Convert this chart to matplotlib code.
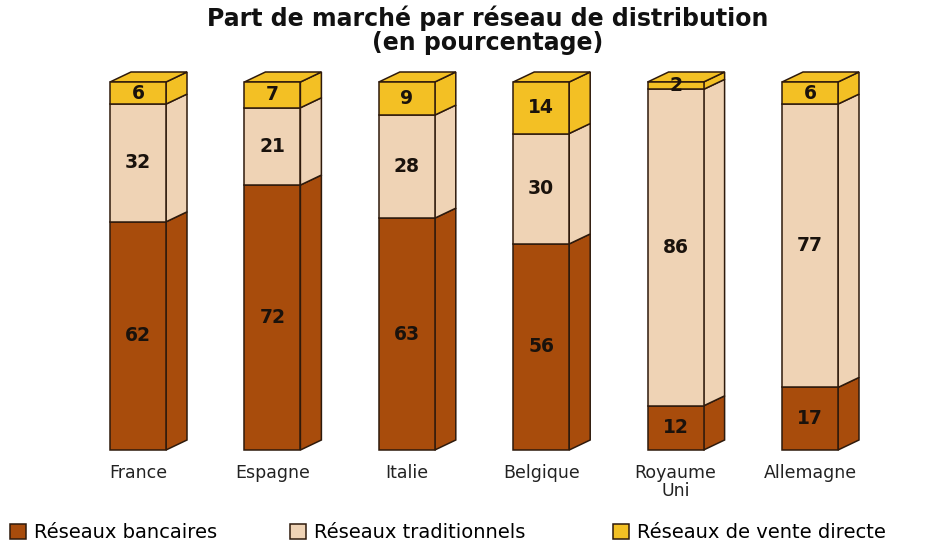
import matplotlib
matplotlib.use("Agg")
import matplotlib.pyplot as plt
from matplotlib.patches import Polygon

plt.rcParams['font.family'] = ['DejaVu Sans']

categories = ["France", "Espagne", "Italie", "Belgique", "Royaume\nUni", "Allemagne"]
bancaires = [62, 72, 63, 56, 12, 17]
traditionnels = [32, 21, 28, 30, 86, 77]
vente_directe = [6, 7, 9, 14, 2, 6]
series_names = ["Réseaux bancaires", "Réseaux traditionnels", "Réseaux de vente directe"]
colors = ["#A84C0C", "#EFD3B5", "#F3C024"]
edge = "#2E1A0C"

fig = plt.figure(figsize=(9.42, 5.47), dpi=100)
W, H = 942, 547
px_per_cat = (810 - 138) / 5
left_px = 138 - 0.5 * px_per_cat
ax = fig.add_axes([left_px / W, (H - 450) / H, 6 * px_per_cat / W, 368 / H])
ax.set_xlim(-0.5, 5.5)
ax.set_ylim(0, 100)
ax.axis('off')

hw = 28 / px_per_cat
dx = 21 / px_per_cat
dy = 10 / 3.68

series = [bancaires, traditionnels, vente_directe]
for i, cat in enumerate(categories):
    bottom = 0
    x0, x1 = i - hw, i + hw
    for s, vals in enumerate(series):
        v = vals[i]
        top = bottom + v
        c = colors[s]
        ax.add_patch(Polygon([(x1, bottom), (x1 + dx, bottom + dy), (x1 + dx, top + dy), (x1, top)],
                             closed=True, facecolor=c, edgecolor=edge, lw=1.1, clip_on=False, zorder=2))
        ax.add_patch(Polygon([(x0, bottom), (x1, bottom), (x1, top), (x0, top)],
                             closed=True, facecolor=c, edgecolor=edge, lw=1.1, clip_on=False, zorder=3))
        if s == len(series) - 1:
            ax.add_patch(Polygon([(x0, top), (x1, top), (x1 + dx, top + dy), (x0 + dx, top + dy)],
                                 closed=True, facecolor=c, edgecolor=edge, lw=1.1, clip_on=False, zorder=2))
        ax.text(i, bottom + v / 2, str(v), ha='center', va='center', fontsize=13.5,
                fontweight='bold', color='#1A120C', zorder=5, clip_on=False)
        bottom = top
    ax.text(i, -3.8, cat, ha='center', va='top', fontsize=12.5, color='#222222',
            linespacing=1.0, clip_on=False)

fig.text(488 / W, 1 - 18 / H, "Part de marché par réseau de distribution",
         ha='center', va='center', fontsize=17, fontweight='bold', color='#111111')
fig.text(488 / W, 1 - 43 / H, "(en pourcentage)",
         ha='center', va='center', fontsize=17, fontweight='bold', color='#111111')

legend_x = [10, 290, 613]
for k in range(3):
    h = plt.Rectangle((0, 0), 1, 1, facecolor=colors[k], edgecolor=edge, lw=1.1)
    fig.legend([h], [series_names[k]], loc='center left', bbox_to_anchor=(legend_x[k] / W, 1 - 533 / H),
               frameon=False, fontsize=14, handlelength=0.8, handleheight=0.8, handletextpad=0.45,
               borderaxespad=0, borderpad=0)

fig.savefig("out.png", dpi=100)
